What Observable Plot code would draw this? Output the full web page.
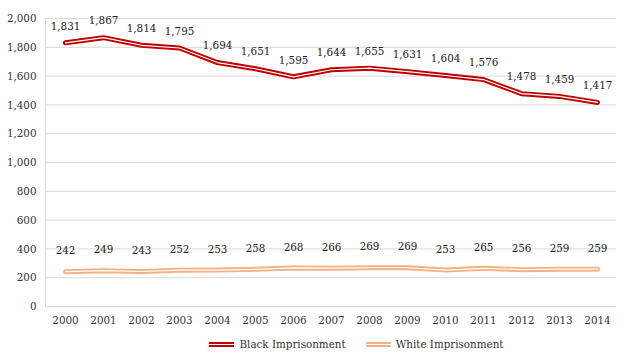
<!DOCTYPE html>
<html>
<head>
<meta charset="utf-8">
<script src="https://cdn.jsdelivr.net/npm/d3@7"></script>
<script src="https://cdn.jsdelivr.net/npm/@observablehq/plot@0.6"></script>
<style>
  html, body { margin: 0; padding: 0; background: #fff; }
  body { width: 635px; font-family: "DejaVu Serif Condensed", "DejaVu Serif", serif; font-stretch: condensed; }
  svg text { font-stretch: condensed; }
  #legend { display: flex; justify-content: center; align-items: center; gap: 20px; height: 24px; font-size: 11.5px; color: #333; margin-left: 78px; }
  .item { display: flex; align-items: center; gap: 5px; }
  .sw { width: 25px; height: 5px; position: relative; }
  .sw::after { content: ""; position: absolute; left: 0; right: 0; top: 2px; height: 1px; background: #fff; }
</style>
</head>
<body>
<div id="chart"></div>
<div id="legend"></div>
<script>
const years = [2000, 2001, 2002, 2003, 2004, 2005, 2006, 2007, 2008, 2009, 2010, 2011, 2012, 2013, 2014];
const black = [1831, 1867, 1814, 1795, 1694, 1651, 1595, 1644, 1655, 1631, 1604, 1576, 1478, 1459, 1417];
const white = [242, 249, 243, 252, 253, 258, 268, 266, 269, 269, 253, 265, 256, 259, 259];
const seriesNames = ["Black Imprisonment", "White Imprisonment"];
const colors = ["#C00000", "#F4B183"];
const yTicks = [0, 200, 400, 600, 800, 1000, 1200, 1400, 1600, 1800, 2000];

const FONT = "'DejaVu Serif Condensed', 'DejaVu Serif', serif";
const fmt = d3.format(",");

const data = [];
years.forEach((y, i) => {
  data.push({year: y, value: black[i], series: seriesNames[0]});
  data.push({year: y, value: white[i], series: seriesNames[1]});
});
const bData = data.filter(d => d.series === seriesNames[0]);
const wData = data.filter(d => d.series === seriesNames[1]);

const chart = Plot.plot({
  width: 635,
  height: 332,
  marginTop: 18,
  marginBottom: 26,
  marginLeft: 45,
  marginRight: 19,
  style: {fontFamily: FONT, fontSize: "11.5px", color: "#333"},
  x: {type: "point", domain: years, padding: 0.5, label: null},
  y: {domain: [0, 2000], label: null},
  color: {domain: seriesNames, range: colors},
  marks: [
    Plot.ruleY(yTicks.slice(1), {y: d => d, stroke: "#d9d9d9", strokeWidth: 1}),
    Plot.ruleY([0], {stroke: "#d0d0d0", strokeWidth: 1}),
    Plot.frame({anchor: "left", stroke: "#d9d9d9"}),
    Plot.axisY({ticks: yTicks, tickSize: 0, tickPadding: 9, tickFormat: fmt, fontSize: 11.5, fontFamily: FONT}),
    Plot.axisX({tickSize: 0, tickPadding: 9, tickFormat: d => String(d), fontSize: 11.5, fontFamily: FONT}),
    Plot.line(data, {x: "year", y: "value", z: "series", stroke: "series", strokeWidth: 5}),
    Plot.line(data, {x: "year", y: "value", z: "series", stroke: "#fff", strokeWidth: 1.2}),
    Plot.text(bData, {x: "year", y: "value", text: d => fmt(d.value), dy: -17, fill: "#222", fontSize: 11.5, fontFamily: FONT}),
    Plot.text(wData, {x: "year", y: "value", text: d => fmt(d.value), dy: -21, fill: "#222", fontSize: 11.5, fontFamily: FONT})
  ]
});
document.getElementById("chart").appendChild(chart);

const legend = document.getElementById("legend");
seriesNames.forEach((name, i) => {
  const item = document.createElement("div");
  item.className = "item";
  const sw = document.createElement("div");
  sw.className = "sw";
  sw.style.background = colors[i];
  const label = document.createElement("span");
  label.textContent = name;
  item.appendChild(sw);
  item.appendChild(label);
  legend.appendChild(item);
});
</script>
</body>
</html>
